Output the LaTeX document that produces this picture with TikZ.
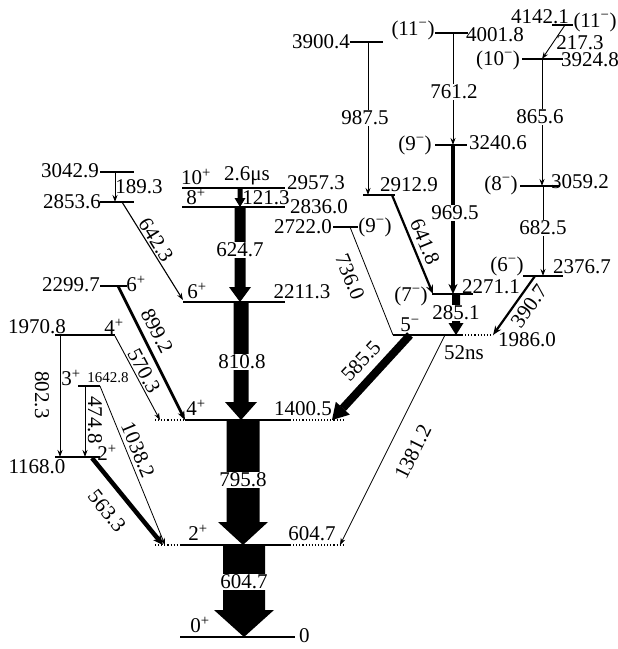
\documentclass[tikz,border=0pt]{standalone}
\usepackage{fontspec}
\setmainfont{Liberation Serif}
\usetikzlibrary{arrows.meta}
\newcommand\js[1]{\textsuperscript{#1}}
\newcommand\fatdown[6]{\fill (#1-#4/2,#2) -- (#1+#4/2,#2) -- (#1+#4/2,#3-#6) -- (#1+#5/2,#3-#6) -- (#1,#3) -- (#1-#5/2,#3-#6) -- (#1-#4/2,#3-#6) -- cycle;}
\tikzset{
 lvl/.style={line width=1.3pt},
 dotlvl/.style={line width=1.1pt, dotted},
 tr/.style={line width=0.9pt,-{Stealth[length=7pt,width=5pt]}},
 trm/.style={line width=2.2pt,-{Stealth[length=9pt,width=7pt]}},
 trt/.style={line width=3.5pt,-{Stealth[length=10pt,width=9pt]}},
 lab/.style={font=\fontsize{21}{23}\selectfont, inner sep=0pt},
 slab/.style={font=\fontsize{15}{17}\selectfont, inner sep=0pt},
 wlab/.style={lab, fill=white, inner sep=1pt},
}
\begin{document}
\begin{tikzpicture}[x=1pt,y=-1pt]
\useasboundingbox (0,0) rectangle (618,649);
% ---------- levels: central cascade
\draw[lvl] (180,637) -- (295,637);
\draw[lvl] (180,545) -- (290,545);
\draw[dotlvl] (155,545) -- (180,545) (290,545) -- (343,545);
\draw[lvl] (185,420) -- (290,420);
\draw[dotlvl] (155,420) -- (185,420) (290,420) -- (343,420);
\draw[lvl] (183,302) -- (285,302);
\draw[lvl] (182,188) -- (285,188);
\draw[lvl] (182,207) -- (285,207);
% ---------- levels: left
\draw[lvl] (100,172) -- (134,172);
\draw[lvl] (100,202) -- (134,202);
\draw[lvl] (100,286) -- (127,286);
\draw[lvl] (55,335) -- (115,335);
\draw[lvl] (78,386) -- (100,386);
\draw[lvl] (55,457) -- (100,457);
% ---------- levels: right
\draw[lvl] (333,227) -- (358,227);
\draw[lvl] (393,335) -- (462,335);
\draw[dotlvl] (462,335) -- (493,335);
\draw[lvl] (432,294) -- (473,294);
\draw[lvl] (523,276) -- (563,276);
\draw[lvl] (520,186) -- (560,186);
\draw[lvl] (522,59) -- (563,59);
\draw[lvl] (552,25) -- (573,25);
\draw[lvl] (435,33) -- (468,33);
\draw[lvl] (435,145) -- (467,145);
\draw[lvl] (350,42) -- (383,42);
\draw[lvl] (363,195) -- (395,195);
% ---------- named transition end points
\coordinate (a1a) at (115,172); \coordinate (a1b) at (115,202);
\coordinate (a2a) at (122,202); \coordinate (a2b) at (183,300);
\coordinate (a3a) at (118,286); \coordinate (a3b) at (185,420);
\coordinate (a4a) at (115,336); \coordinate (a4b) at (160,420);
\coordinate (a5a) at (60,335);  \coordinate (a5b) at (60,457);
\coordinate (a6a) at (85,386);  \coordinate (a6b) at (85,457);
\coordinate (a7a) at (92,458);  \coordinate (a7b) at (163,545);
\coordinate (a8a) at (100,386); \coordinate (a8b) at (165,545);
\coordinate (b1a) at (410,335); \coordinate (b1b) at (332,420);
\coordinate (b2a) at (445,335); \coordinate (b2b) at (340,545);
\coordinate (b3a) at (350,227); \coordinate (b3b) at (393,335);
\coordinate (b4a) at (392,195); \coordinate (b4b) at (433,294);
\coordinate (b5a) at (368,42);  \coordinate (b5b) at (368,195);
\coordinate (b6a) at (453,33);  \coordinate (b6b) at (453,145);
\coordinate (b7a) at (453,145); \coordinate (b7b) at (453,294);
\coordinate (b8a) at (565,25);  \coordinate (b8b) at (542,59);
\coordinate (b9a) at (542,59);  \coordinate (b9b) at (542,186);
\coordinate (b10a) at (543,186); \coordinate (b10b) at (543,276);
\coordinate (b11a) at (535,276); \coordinate (b11b) at (493,335);
% ---------- transitions
\draw[tr] (a1a) -- (a1b);
\draw[tr,line width=1.1pt] (a2a) -- (a2b);
\draw[trm,line width=2.8pt] (a3a) -- (a3b);
\draw[tr] (a4a) -- (a4b);
\draw[tr] (a5a) -- (a5b);
\draw[tr] (a6a) -- (a6b);
\draw[trt,line width=4.5pt] (a7a) -- (a7b);
\draw[tr,line width=0.8pt] (a8a) -- (a8b);
\draw[line width=8pt,-{Triangle[length=16pt,width=19pt,line width=0pt]}] (b1a) -- (b1b);
\draw[tr,line width=0.8pt] (b2a) -- (b2b);
\draw[line width=0.8pt] (b3a) -- (b3b);
\draw[trm] (b4a) -- (b4b);
\draw[tr] (b5a) -- (b5b);
\draw[tr] (b6a) -- (b6b);
\draw[trt] (b7a) -- (b7b);
\draw[tr] (b8a) -- (b8b);
\draw[tr] (b9a) -- (b9b);
\draw[tr] (b10a) -- (b10b);
\draw[trm] (b11a) -- (b11b);
% fat vertical arrows
\fatdown{240}{188}{207}{5}{11}{9}
\fatdown{240}{207}{302}{11}{22}{15}
\fatdown{241}{302}{420}{15}{32}{18}
\fatdown{243}{420}{545}{33}{50}{23}
\fatdown{244}{545}{637}{42}{60}{27}
\fatdown{456}{294}{335}{8}{15}{12}
% ---------- level labels: cascade
\node[lab] (n0s) at (200,625) {0\js{+}};
\node[lab,anchor=west] (n0e) at (299,636) {0};
\node[lab] (n2s) at (198,533) {2\js{+}};
\node[lab] (n2e) at (312,534) {604.7};
\node[lab] (n4s) at (196,408) {4\js{+}};
\node[lab] (n4e) at (303,409) {1400.5};
\node[lab] (n6s) at (197,291) {6\js{+}};
\node[lab] (n6e) at (302,292) {2211.3};
\node[lab] (n10s) at (196,177) {10\js{+}};
\node[lab] (n10t) at (247,176) {2.6μs};
\node[lab] (n10e) at (316,183) {2957.3};
\node[lab] (n8s) at (196,197) {8\js{+}};
\node[lab] (n8e) at (319,207) {2836.0};
% left labels
\node[lab] (m1) at (70,171) {3042.9};
\node[lab] (m2) at (72,202) {2853.6};
\node[lab] (m3) at (71,285) {2299.7};
\node[lab] (m3s) at (136,284) {6\js{+}};
\node[lab] (m4) at (37,327) {1970.8};
\node[lab] (m4s) at (114,327) {4\js{+}};
\node[lab] (m5s) at (71,378) {3\js{+}};
\node[slab] (m5) at (108,378) {1642.8};
\node[lab] (m6s) at (107,453) {2\js{+}};
\node[lab] (m6) at (37,467) {1168.0};
% right labels
\node[lab] (r1) at (303,227) {2722.0};
\node[lab] (r1s) at (375,227) {(9\js{−})};
\node[lab] (r2s) at (410,325) {5\js{−}};
\node[lab] (r2) at (527,340) {1986.0};
\node[lab] (r2t) at (464,353) {52ns};
\node[lab] (r3s) at (411,296) {(7\js{−})};
\node[lab] (r3) at (491,287) {2271.1};
\node[lab] (r4s) at (507,266) {(6\js{−})};
\node[lab] (r4) at (582,267) {2376.7};
\node[lab] (r5s) at (501,185) {(8\js{−})};
\node[lab] (r5) at (580,182) {3059.2};
\node[lab] (r6s) at (498,60) {(10\js{−})};
\node[lab] (r6) at (590,60) {3924.8};
\node[lab] (r7) at (540,17) {4142.1};
\node[lab] (r7s) at (595,22) {(11\js{−})};
\node[lab] (r8s) at (413,30) {(11\js{−})};
\node[lab] (r8) at (495,35) {4001.8};
\node[lab] (r9s) at (415,145) {(9\js{−})};
\node[lab] (r9) at (498,143) {3240.6};
\node[lab] (r10) at (321,42) {3900.4};
\node[lab] (r11) at (409,185) {2912.9};
% ---------- transition labels
\node[lab] (g1) at (139,187) {189.3};
\node[lab,rotate=-58] (g2) at (156,240) {642.3};
\node[lab,rotate=-63] (g3) at (157,331) {899.2};
\node[lab,rotate=-62] (g4) at (144,371) {570.3};
\node[lab,rotate=-90] (g5) at (42,395) {802.3};
\node[lab,rotate=-90] (g6) at (95,420) {474.8};
\node[lab,rotate=-51] (g7) at (107,511) {563.3};
\node[lab,rotate=-67.5] (g8) at (138,450) {1038.2};
\node[lab] (g9) at (266,198) {121.3};
\node[wlab] (g10) at (240,250) {624.7};
\node[wlab] (g11) at (242,362) {810.8};
\node[wlab] (g12) at (243,480) {795.8};
\node[wlab] (g13) at (244,582) {604.7};
\node[lab,rotate=47] (h1) at (361,361) {585.5};
\node[lab,rotate=63.4] (h2) at (413,452) {1381.2};
\node[lab,rotate=-68] (h3) at (350,277) {736.0};
\node[lab,rotate=-67.5] (h4) at (425,242) {641.8};
\node[wlab] (h5) at (365,118) {987.5};
\node[wlab] (h6) at (454,92) {761.2};
\node[wlab] (h7) at (455,213) {969.5};
\node[wlab] (h8) at (456,313) {285.1};
\node[lab] (h9) at (580,43) {217.3};
\node[wlab] (h10) at (540,117) {865.6};
\node[wlab] (h11) at (543,228) {682.5};
\node[lab,rotate=54.5] (h12) at (529,306) {390.7};
\end{tikzpicture}
\end{document}
